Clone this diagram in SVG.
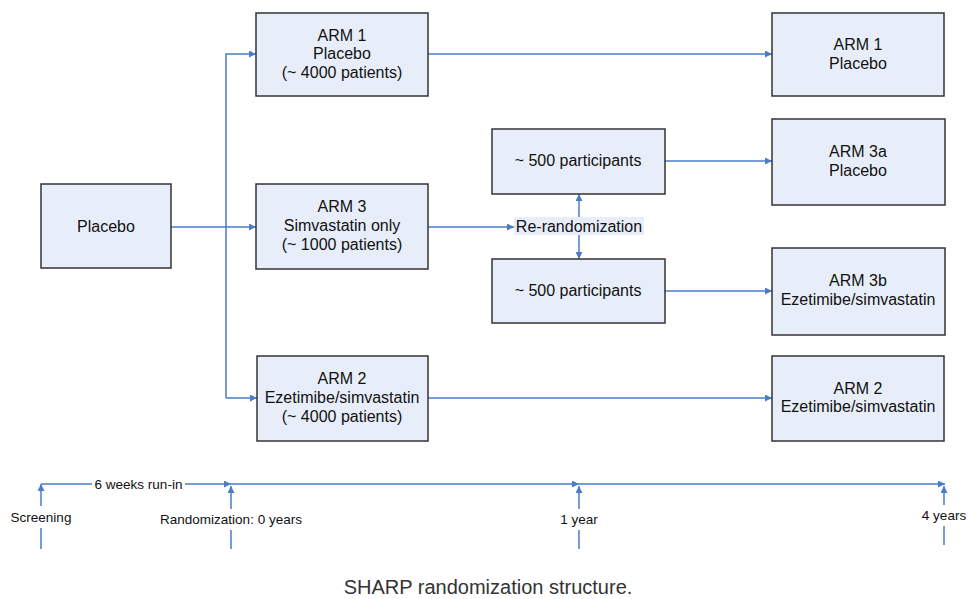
<svg xmlns="http://www.w3.org/2000/svg" width="968" height="599" viewBox="0 0 968 599">
<style>
.box{fill:#e8eef9;stroke:#333;stroke-width:1.5}
.t{font-family:"Liberation Sans",Arial,sans-serif;font-size:16px;fill:#111;text-anchor:middle}
.s{font-family:"Liberation Sans",Arial,sans-serif;font-size:13.5px;fill:#111;text-anchor:middle}
.c{fill:none;stroke:#4a7cc8;stroke-width:1.5}
</style>
<defs>
<marker id="ah" viewBox="0 0 10 10" refX="10" refY="5" markerWidth="7" markerHeight="7" orient="auto" markerUnits="userSpaceOnUse">
<path d="M0,0 L10,5 L0,10 z" fill="#4a7cc8"/>
</marker>
</defs>
<rect width="968" height="599" fill="#fff"/>
<g id="connectors">
<path class="c" d="M171,227 H256" marker-end="url(#ah)"/>
<path class="c" d="M226,398 V54 H256" marker-end="url(#ah)"/>
<path class="c" d="M226,398 H257" marker-end="url(#ah)"/>
<path class="c" d="M428,54 H772" marker-end="url(#ah)"/>
<path class="c" d="M428,398 H772" marker-end="url(#ah)"/>
<path class="c" d="M428,227 H514" marker-end="url(#ah)"/>
<path class="c" d="M579,217 V194" marker-end="url(#ah)"/>
<path class="c" d="M579,235 V259" marker-end="url(#ah)"/>
<path class="c" d="M665,161 H772" marker-end="url(#ah)"/>
<path class="c" d="M665,291 H772" marker-end="url(#ah)"/>
</g>
<g id="rerandomization">
<rect x="514" y="217" width="130" height="18" fill="#e8eef9"/>
<text class="t" x="579" y="231.5">Re-randomization</text>
</g>
<g id="placebo">
<rect class="box" x="41" y="184" width="130" height="84"/>
<text class="t" x="106" y="231.5">Placebo</text>
</g>
<g id="arm1">
<rect class="box" x="256" y="13" width="172" height="83"/>
<text class="t" x="342" y="40.5">ARM 1</text>
<text class="t" x="342" y="59">Placebo</text>
<text class="t" x="342" y="77.5">(~ 4000 patients)</text>
</g>
<g id="arm3">
<rect class="box" x="256" y="184" width="172" height="85"/>
<text class="t" x="342" y="212">ARM 3</text>
<text class="t" x="342" y="231">Simvastatin only</text>
<text class="t" x="342" y="249.5">(~ 1000 patients)</text>
</g>
<g id="arm2">
<rect class="box" x="257" y="356" width="171" height="85"/>
<text class="t" x="342" y="384">ARM 2</text>
<text class="t" x="342" y="403">Ezetimibe/simvastatin</text>
<text class="t" x="342" y="421.5">(~ 4000 patients)</text>
</g>
<g id="p500a">
<rect class="box" x="492" y="129" width="173" height="65"/>
<text class="t" x="578" y="166">~ 500 participants</text>
</g>
<g id="p500b">
<rect class="box" x="492" y="259" width="173" height="64"/>
<text class="t" x="578" y="296">~ 500 participants</text>
</g>
<g id="arm1r">
<rect class="box" x="772" y="13" width="172" height="83"/>
<text class="t" x="858" y="50">ARM 1</text>
<text class="t" x="858" y="68.5">Placebo</text>
</g>
<g id="arm3a">
<rect class="box" x="772" y="119" width="173" height="86"/>
<text class="t" x="858" y="157">ARM 3a</text>
<text class="t" x="858" y="175.5">Placebo</text>
</g>
<g id="arm3b">
<rect class="box" x="772" y="248" width="173" height="87"/>
<text class="t" x="858" y="286">ARM 3b</text>
<text class="t" x="858" y="305">Ezetimibe/simvastatin</text>
</g>
<g id="arm2r">
<rect class="box" x="772" y="356" width="172" height="85"/>
<text class="t" x="858" y="393.5">ARM 2</text>
<text class="t" x="858" y="412">Ezetimibe/simvastatin</text>
</g>
<g id="timeline">
<path class="c" d="M41,484 H231" marker-end="url(#ah)"/>
<path class="c" d="M231,484 H579" marker-end="url(#ah)"/>
<path class="c" d="M579,484 H945" marker-end="url(#ah)"/>
<rect x="92" y="476" width="93" height="16" fill="#fff"/>
<text class="s" x="138.5" y="489">6 weeks run-in</text>
<path class="c" d="M41,549 V528"/>
<path class="c" d="M41,506 V484" marker-end="url(#ah)"/>
<text class="s" x="41" y="521.5">Screening</text>
<path class="c" d="M231,549 V530"/>
<path class="c" d="M231,509 V486" marker-end="url(#ah)"/>
<text class="s" x="231" y="523.5">Randomization: 0 years</text>
<path class="c" d="M579,549 V530"/>
<path class="c" d="M579,509 V486" marker-end="url(#ah)"/>
<text class="s" x="579" y="523.5">1 year</text>
<path class="c" d="M944,545 V526"/>
<path class="c" d="M944,505 V486" marker-end="url(#ah)"/>
<text class="s" x="944" y="519.5">4 years</text>
</g>
<text x="488" y="594" style="font-family:'Liberation Sans',Arial,sans-serif;font-size:20px;fill:#333;text-anchor:middle">SHARP randomization structure.</text>
</svg>
